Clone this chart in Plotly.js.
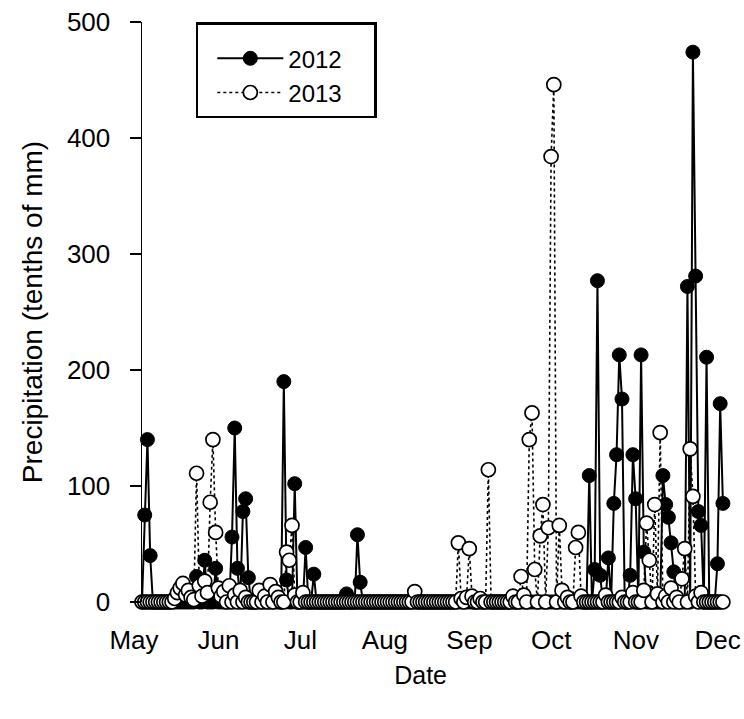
<!DOCTYPE html>
<html>
<head>
<meta charset="utf-8">
<script src="https://cdn.plot.ly/plotly-3.0.1.min.js"></script>
<style>
  html, body { margin: 0; padding: 0; background: #fff; }
  #chart { width: 744px; height: 719px; }
</style>
</head>
<body>
<div id="chart"></div>
<script>
// Daily precipitation (tenths of mm), 1 May .. 30 Nov, one value per day.
const firstDay = '2012-05-01';

const precip2012 = [
  0, 75, 140, 40, 0, 0, 0, 0, 0, 0,
  0, 0, 0, 0, 0, 0, 0, 0, 0, 0,
  22, 0, 0, 36, 0, 0, 0, 29, 0, 0,
  0, 0, 0, 56, 150, 29, 0, 78, 89, 21,
  0, 0, 0, 0, 0, 0, 0, 0, 0, 0,
  0, 0, 190, 19, 0, 0, 102, 0, 0, 0,
  47, 0, 0, 24, 0, 0, 0, 0, 0, 0,
  0, 0, 0, 0, 0, 7, 0, 0, 0, 58,
  17, 0, 0, 0, 0, 0, 0, 0, 0, 0,
  0, 0, 0, 0, 0, 0, 0, 0, 0, 0,
  0, 0, 0, 0, 0, 0, 0, 0, 0, 0,
  0, 0, 0, 0, 0, 0, 0, 0, 0, 0,
  0, 0, 0, 0, 0, 0, 0, 0, 0, 0,
  0, 0, 0, 0, 0, 0, 0, 0, 0, 0,
  0, 0, 0, 0, 0, 0, 0, 0, 0, 0,
  0, 0, 0, 0, 0, 0, 0, 0, 0, 0,
  0, 0, 0, 0, 109, 0, 28, 277, 23, 0,
  0, 38, 0, 85, 127, 213, 175, 0, 0, 23,
  127, 89, 0, 213, 43, 0, 0, 0, 0, 0,
  0, 109, 84, 73, 51, 26, 0, 0, 0, 0,
  272, 0, 474, 281, 78, 66, 0, 211, 0, 0,
  0, 33, 171, 85
];

const precip2013 = [
  0, 0, 0, 0, 0, 0, 0, 0, 0, 0,
  0, 0, 3, 8, 12, 16, 6, 10, 4, 2,
  111, 14, 5, 18, 8, 86, 140, 60, 12, 5,
  9, 0, 14, 0, 6, 0, 10, 0, 4, 0,
  0, 0, 0, 10, 0, 5, 0, 15, 0, 9,
  4, 0, 0, 43, 36, 66, 6, 0, 0, 8,
  0, 0, 0, 0, 0, 0, 0, 0, 0, 0,
  0, 0, 0, 0, 0, 0, 0, 0, 0, 0,
  0, 0, 0, 0, 0, 0, 0, 0, 0, 0,
  0, 0, 0, 0, 0, 0, 0, 0, 0, 0,
  9, 0, 0, 0, 0, 0, 0, 0, 0, 0,
  0, 0, 0, 0, 0, 0, 51, 3, 0, 4,
  46, 5, 0, 0, 3, 0, 0, 114, 0, 0,
  0, 0, 0, 0, 0, 0, 5, 0, 0, 22,
  6, 0, 140, 163, 28, 0, 57, 84, 0, 64,
  384, 446, 0, 66, 10, 0, 4, 0, 0, 47,
  60, 5, 0, 0, 0, 0, 0, 0, 0, 0,
  6, 0, 0, 0, 0, 0, 4, 0, 0, 0,
  8, 0, 0, 0, 10, 68, 36, 0, 84, 7,
  146, 0, 5, 0, 12, 0, 4, 0, 20, 46,
  0, 132, 91, 5, 0, 8, 0, 0, 0, 0,
  0, 0, 0, 0
];

const seriesNames = ['2012', '2013'];
const monthTicks = ['2012-05-01', '2012-06-01', '2012-07-01', '2012-08-01',
                    '2012-09-01', '2012-10-01', '2012-11-01', '2012-12-01'];
const monthLabels = ['May', 'Jun', 'Jul', 'Aug', 'Sep', 'Oct', 'Nov', 'Dec'];
const yTicks = [0, 100, 200, 300, 400, 500];

// One calendar date per daily value (both seasons share the same day axis).
function dayDates(n) {
  const out = [];
  const t0 = Date.parse(firstDay + 'T00:00:00Z');
  for (let i = 0; i < n; i++) {
    out.push(new Date(t0 + i * 86400000).toISOString().slice(0, 10));
  }
  return out;
}

const FONT = 'Liberation Sans, Arial, Helvetica, sans-serif';
const NB = '\u00a0';
const ZW = '\u200b';
// trailing space keeps the legend box as wide as the framed key
const legendPad = NB + NB + NB + NB + ZW;

const trace2012 = {
  x: dayDates(precip2012.length),
  y: precip2012,
  name: seriesNames[0] + legendPad,
  type: 'scatter',
  mode: 'lines+markers',
  cliponaxis: false,
  line: { color: '#000', width: 2, dash: 'solid' },
  marker: { symbol: 'circle', size: 14, color: '#000', line: { color: '#000', width: 1 } }
};

const trace2013 = {
  x: dayDates(precip2013.length),
  y: precip2013,
  name: seriesNames[1] + legendPad,
  type: 'scatter',
  mode: 'lines+markers',
  cliponaxis: false,
  line: { color: '#000', width: 1.6, dash: 'dot' },
  marker: { symbol: 'circle', size: 14, color: '#fff', line: { color: '#000', width: 1.7 } }
};

const layout = {
  width: 744,
  height: 719,
  margin: { l: 142, r: 17, t: 22, b: 117 },
  paper_bgcolor: '#fff',
  plot_bgcolor: '#fff',
  font: { family: FONT, color: '#000', size: 24 },
  showlegend: true,
  legend: {
    x: 0.092, y: 1.0, xanchor: 'left', yanchor: 'top',
    bgcolor: '#fff', bordercolor: '#000', borderwidth: 2.5,
    font: { family: FONT, size: 24, color: '#000' },
    itemwidth: 66,
    indentation: 14,
    title: { text: ' ', font: { size: 9 } }
  },
  xaxis: {
    type: 'date',
    range: ['2012-05-01', '2012-12-01 12:00'],
    tickvals: monthTicks,
    ticktext: monthLabels,
    ticklabelshift: -8,
    ticks: 'outside',
    ticklen: 15,
    tickcolor: 'rgba(0,0,0,0)',
    showline: false,
    showgrid: false,
    zeroline: false,
    tickfont: { family: FONT, size: 26, color: '#000' },
    title: { text: 'Date' + NB + NB + NB + NB + ZW, font: { family: FONT, size: 25, color: '#000' }, standoff: 12 },
    fixedrange: true
  },
  yaxis: {
    range: [0, 500],
    tickvals: yTicks,
    ticks: 'outside',
    ticklen: 11,
    tickwidth: 1.5,
    tickcolor: '#000',
    showline: true,
    linecolor: '#000',
    linewidth: 1.5,
    showgrid: false,
    zeroline: false,
    ticklabelstandoff: 14,
    tickfont: { family: FONT, size: 26, color: '#000' },
    title: { text: NB + NB + NB + NB + 'Precipitation (tenths of mm)', font: { family: FONT, size: 28, color: '#000' }, standoff: 16 },
    fixedrange: true
  }
};

Plotly.newPlot('chart', [trace2012, trace2013], layout, { displayModeBar: false, staticPlot: true });
</script>
</body>
</html>
